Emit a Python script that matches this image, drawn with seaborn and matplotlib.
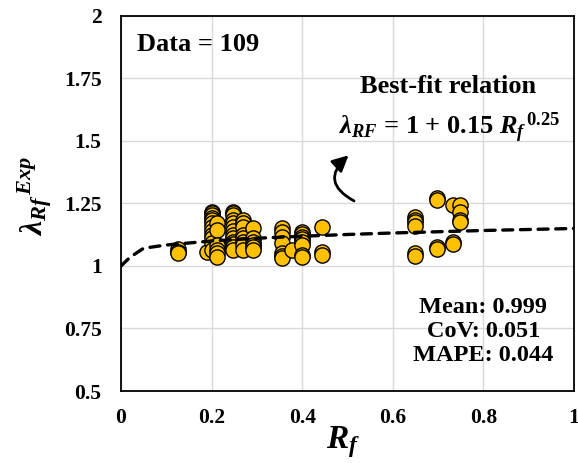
import matplotlib
matplotlib.use("Agg")
import matplotlib.pyplot as plt
import seaborn as sns
import pandas as pd


# --- Data ---
rf_values = (
    [0.125] * 3 + [0.19]
    + [0.2] * 12 + [0.211] * 6
    + [0.248] * 13 + [0.27] * 8 + [0.292] * 6
    + [0.355] * 7 + [0.378] + [0.4] * 8 + [0.443] * 3
    + [0.649] * 6 + [0.698] * 4 + [0.732] * 3 + [0.748] * 4
)
lambda_values = [
    1.067, 1.055, 1.05,
    1.057,
    1.217, 1.21, 1.204, 1.19, 1.184, 1.17, 1.157, 1.14, 1.124, 1.11, 1.091, 1.064,
    1.171, 1.144, 1.084, 1.064, 1.05, 1.037,
    1.217, 1.21, 1.204, 1.184, 1.17, 1.157, 1.14, 1.124, 1.11, 1.097, 1.087, 1.077, 1.064,
    1.184, 1.17, 1.157, 1.124, 1.11, 1.097, 1.084, 1.064,
    1.151, 1.111, 1.097, 1.084, 1.074, 1.064,
    1.151, 1.137, 1.117, 1.091, 1.051, 1.041, 1.031,
    1.064,
    1.137, 1.127, 1.117, 1.107, 1.097, 1.084, 1.044, 1.037,
    1.157, 1.057, 1.044,
    1.197, 1.185, 1.177, 1.16, 1.051, 1.04,
    1.271, 1.264, 1.077, 1.067,
    1.244, 1.097, 1.088,
    1.244, 1.217, 1.184, 1.175,
]

# best-fit curve as drawn (dashed)
fit_rf = [0.0, 0.02, 0.05, 0.1, 0.2, 0.3, 0.4, 0.5, 0.6, 0.7, 0.8, 0.9, 1.0]
fit_lambda = [1.0, 1.035, 1.071, 1.084, 1.1, 1.111, 1.119, 1.126, 1.132,
              1.137, 1.142, 1.146, 1.15]

x_ticks = [0, 0.2, 0.4, 0.6, 0.8, 1]
x_tick_labels = ["0", "0.2", "0.4", "0.6", "0.8", "1"]
y_ticks = [0.5, 0.75, 1, 1.25, 1.5, 1.75, 2]
y_tick_labels = ["0.5", "0.75", "1", "1.25", "1.5", "1.75", "2"]

n_data = 109
stats_text = "Mean: 0.999\nCoV: 0.051\nMAPE: 0.044"

df = pd.DataFrame({"rf": rf_values, "lam": lambda_values})
df_fit = pd.DataFrame({"rf": fit_rf, "lam": fit_lambda})

# --- Style ---
sns.set_style("whitegrid")
plt.rcParams["font.family"] = ["Liberation Serif", "DejaVu Serif"]
plt.rcParams["font.weight"] = "bold"
plt.rcParams["text.color"] = "black"
plt.rcParams["axes.labelcolor"] = "black"
plt.rcParams["xtick.color"] = "black"
plt.rcParams["ytick.color"] = "black"
plt.rcParams["mathtext.fontset"] = "custom"
plt.rcParams["mathtext.rm"] = "Liberation Serif:bold"
plt.rcParams["mathtext.it"] = "Liberation Serif:italic:bold"
plt.rcParams["mathtext.bf"] = "Liberation Serif:bold"

fig = plt.figure(figsize=(5.78, 4.63), dpi=100)
ax = fig.add_axes([0.2093, 0.1555, 0.7837, 0.81])

sns.scatterplot(data=df, x="rf", y="lam", ax=ax, s=120, color="#FFC000",
                edgecolor="black", linewidth=1.0, zorder=3)
sns.lineplot(data=df_fit, x="rf", y="lam", ax=ax, color="black",
             linewidth=2.4, linestyle=(0, (3.0, 2.3)),
             dash_capstyle="round", zorder=4)

ax.set_xlim(0, 1)
ax.set_ylim(0.5, 2)
ax.set_xticks(x_ticks)
ax.set_xticklabels(x_tick_labels)
ax.set_yticks(y_ticks)
ax.set_yticklabels(y_tick_labels)
ax.tick_params(axis="both", length=0, labelsize=15.5, labelcolor="black")
ax.tick_params(axis="x", pad=12)
ax.tick_params(axis="y", pad=14)
ax.grid(True, color="#d9d9d9", linewidth=1.0)

for spine in ax.spines.values():
    spine.set_color("black")
    spine.set_linewidth(1.3)

ax.set_xlabel(r"$R_f$", fontsize=24)
ax.xaxis.set_label_coords(0.49, -0.088)
ax.set_ylabel(r"$\lambda_{Rf}{}^{\,Exp}$", fontsize=23)
ax.yaxis.set_label_coords(-0.148, 0.52)

# --- Annotations ---
ax.text(0.035, 1.884, f"Data = {n_data}", fontsize=19, fontweight="bold",
        ha="left", va="center")
ax.text(0.722, 1.716, "Best-fit relation", fontsize=19, fontweight="bold",
        ha="center", va="center")
ax.text(0.726, 1.552, r"$\lambda_{RF}$ = 1 + 0.15 $R_f{}^{\,0.25}$",
        fontsize=19, fontweight="bold", ha="center", va="center")
ax.text(0.8, 0.738, stats_text, fontsize=17.5, fontweight="bold",
        ha="center", va="center", multialignment="center", linespacing=1.17)

ax.annotate("", xy=(0.507, 1.45), xytext=(0.52, 1.255),
            arrowprops=dict(arrowstyle="-|>", color="black", lw=2.0,
                            mutation_scale=24,
                            connectionstyle="arc3,rad=-0.75"))

fig.savefig("out.png", dpi=100)
